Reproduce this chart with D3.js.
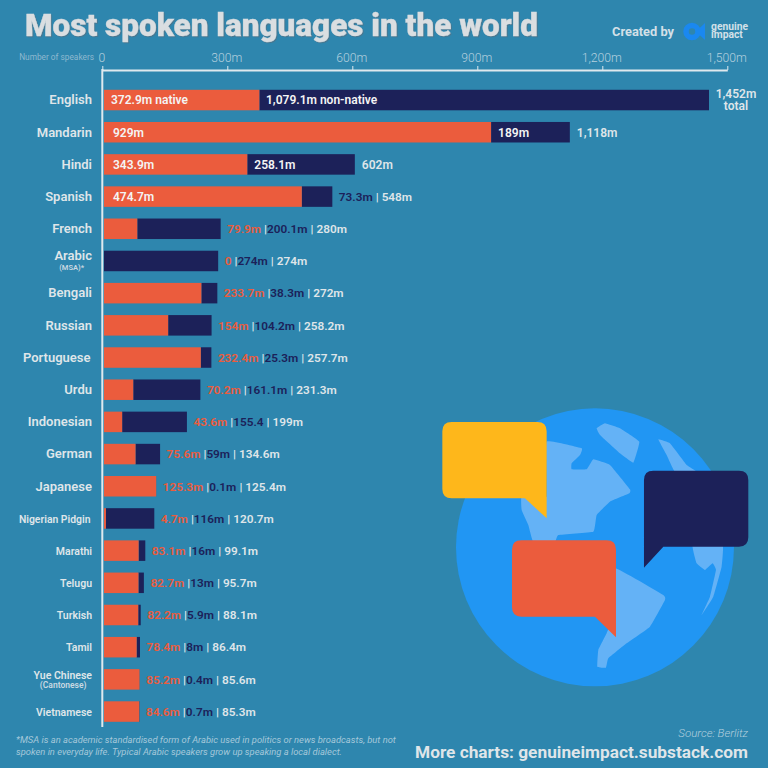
<!DOCTYPE html>
<html>
<head>
<meta charset="utf-8">
<script src="https://cdn.jsdelivr.net/npm/d3@7"></script>
<style>
  html, body { margin: 0; padding: 0; background: #2e86ae; }
  svg { display: block; }
  text { font-family: Roboto, sans-serif; }
</style>
</head>
<body>
<div id="chart"></div>
<script>
// values in millions of speakers
const languages = ["English", "Mandarin", "Hindi", "Spanish", "French", "Arabic", "Bengali", "Russian", "Portuguese", "Urdu",
    "Indonesian", "German", "Japanese", "Nigerian Pidgin", "Marathi", "Telugu", "Turkish", "Tamil", "Yue Chinese", "Vietnamese"];
const subLabels = {"Arabic": "(MSA)*", "Yue Chinese": "(Cantonese)"};
const native = [372.9, 929, 343.9, 474.7, 79.9, 0, 233.7, 154, 232.4, 70.2, 43.6, 75.6, 125.3, 4.7, 83.1, 82.7, 82.2, 78.4, 85.2, 84.6];
const nonNative = [1079.1, 189, 258.1, 73.3, 200.1, 274, 38.3, 104.2, 25.3, 161.1, 155.4, 59, 0.1, 116, 16, 13, 5.9, 8, 0.4, 0.7];
const totals = [1452, 1118, 602, 548, 280, 274, 272, 258.2, 257.7, 231.3, 199, 134.6, 125.4, 120.7, 99.1, 95.7, 88.1, 86.4, 85.6, 85.3];
const axisTicks = [0, 300, 600, 900, 1200, 1500];

const ORANGE = "#eb5c3d", NAVY = "#1c2159", GREY = "#dfe5e9";

let data = languages.map((d, i) => ({language: d, native: native[i], nonNative: nonNative[i], total: totals[i]}));
let fmt = v => d3.format(",")(v) + "m";

let svg = d3.select("#chart").append("svg")
    .attr("width", 768)
    .attr("height", 768);

svg.append("rect").attr("width", 768).attr("height", 768).attr("fill", "#2e86ae");

// title + credit
svg.append("text")
    .attr("x", 25).attr("y", 36)
    .attr("font-size", 31).attr("font-weight", 900)
    .attr("fill", "#dadee1")
    .attr("stroke", "#dadee1").attr("stroke-width", 0.4)
    .style("filter", "drop-shadow(1px 1px 0.5px rgba(90,110,125,0.6))")
    .attr("textLength", 513).attr("lengthAdjust", "spacingAndGlyphs")
    .text("Most spoken languages in the world");

svg.append("text")
    .attr("x", 612).attr("y", 36)
    .attr("font-size", 12).attr("font-weight", 700)
    .attr("fill", "#d3e0e8")
    .attr("textLength", 62).attr("lengthAdjust", "spacingAndGlyphs")
    .text("Created by");

// logo
svg.append("circle").attr("cx", 692).attr("cy", 31.5).attr("r", 6).attr("fill", "none")
    .attr("stroke", "#1a88f0").attr("stroke-width", 5.5);
svg.append("path").attr("d", "M696 31.5 L705 23 L705 40 Z").attr("fill", "#1a88f0");
svg.selectAll(".logoText")
    .data(["genuine", "impact"])
    .enter().append("text")
    .attr("class", "logoText")
    .attr("x", 711)
    .attr("y", (d, i) => 30 + i * 8.3)
    .attr("font-size", 10.3).attr("font-weight", 700)
    .attr("fill", "#d3e0e8")
    .text(d => d);

// scales
let x = d3.scaleLinear().domain([0, 1500]).range([104, 729]);
let y = d3.scaleBand().domain(languages).range([84, 727.6]).paddingInner(0.363).paddingOuter(0.18);

// axis sits a touch left of where the bars start
let xAxis = d3.axisTop(x)
    .tickValues(axisTicks)
    .tickSize(4)
    .tickSizeOuter(0)
    .tickPadding(4)
    .tickFormat(d => d === 0 ? "0" : fmt(d));

let axisGroup = svg.append("g")
    .attr("transform", "translate(-1.7, 70)")
    .call(xAxis);
axisGroup.select(".domain").attr("stroke", "#dfe9ee").attr("stroke-width", 2);
axisGroup.selectAll(".tick line").attr("stroke", "#dfe9ee");
axisGroup.selectAll(".tick text")
    .attr("x", -1)
    .attr("font-size", 12.2).attr("font-weight", 300)
    .attr("fill", "#b4d0de")
    .attr("font-family", "Roboto, sans-serif");

svg.append("line")
    .attr("x1", x(0) - 1.7).attr("x2", x(0) - 1.7)
    .attr("y1", 69).attr("y2", 727)
    .attr("stroke", "#dfe9ee").attr("stroke-width", 2);

svg.append("text")
    .attr("x", 94).attr("y", 60)
    .attr("text-anchor", "end")
    .attr("font-size", 8.3).attr("font-weight", 400)
    .attr("fill", "#8fb9cf")
    .text("Number of speakers");

// stacked bars
svg.selectAll(".nonNativeBar")
    .data(data)
    .enter().append("rect")
    .attr("class", "nonNativeBar")
    .attr("x", d => x(d.native))
    .attr("y", d => y(d.language))
    .attr("width", d => x(d.total) - x(d.native))
    .attr("height", y.bandwidth())
    .attr("fill", NAVY);

svg.selectAll(".nativeBar")
    .data(data)
    .enter().append("rect")
    .attr("class", "nativeBar")
    .attr("x", x(0))
    .attr("y", d => y(d.language))
    .attr("width", d => x(d.native) - x(0))
    .attr("height", y.bandwidth())
    .attr("fill", ORANGE);

// language names
let mid = d => y(d.language) + y.bandwidth() / 2;
svg.selectAll(".langLabel")
    .data(data)
    .enter().append("text")
    .attr("class", "langLabel")
    .attr("x", d => (d.language === "Portuguese" || d.language === "Nigerian Pidgin") ? 90.5 : 92)
    .attr("y", d => mid(d) + (subLabels[d.language] ? -0.5 : 4.3))
    .attr("text-anchor", "end")
    .attr("font-weight", 600)
    .attr("font-size", (d, i) => i === 13 ? 10.4 : (i > 13 ? 10.5 : 13))
    .attr("fill", GREY)
    .text(d => d.language);

svg.selectAll(".subLabel")
    .data(data.filter(d => subLabels[d.language]))
    .enter().append("text")
    .attr("class", "subLabel")
    .attr("x", d => d.language === "Arabic" ? 84 : 86.5)
    .attr("y", d => mid(d) + 9)
    .attr("text-anchor", "end")
    .attr("font-size", d => d.language === "Arabic" ? 7.5 : 8.5).attr("font-weight", 600)
    .attr("fill", "#c9d9e2")
    .text(d => subLabels[d.language]);

// value labels: top rows sit inside the bars, the rest trail behind
let insideLabel = (px, py, txt) => svg.append("text")
    .attr("x", px).attr("y", py)
    .attr("font-size", 12).attr("font-weight", 600)
    .attr("fill", "#f4f4f4")
    .text(txt);

data.forEach((d, i) => {
    let by = mid(d) + 4.3;
    if (i === 0) {
        insideLabel(111, by, fmt(d.native) + " native");
        insideLabel(266, by, fmt(d.nonNative) + " non-native");
        let end = svg.append("text").attr("text-anchor", "middle")
            .attr("font-size", 12).attr("font-weight", 600).attr("fill", GREY);
        end.append("tspan").attr("x", 736).attr("y", 98).text(fmt(d.total));
        end.append("tspan").attr("x", 736).attr("y", 110).text("total");
        return;
    }
    if (i <= 3) {
        insideLabel(113, by, fmt(d.native));
    }
    if (i <= 2) {
        insideLabel(x(d.native) + 7, by, fmt(d.nonNative));
        svg.append("text")
            .attr("x", x(d.total) + 7).attr("y", by)
            .attr("font-size", 12).attr("font-weight", 600).attr("fill", GREY)
            .text(fmt(d.total));
        return;
    }
    let lab = svg.append("text")
        .attr("x", x(d.total) + 6.5).attr("y", by)
        .attr("font-size", 11.8).attr("font-weight", 600);
    if (i > 3) {
        lab.append("tspan").attr("fill", ORANGE).text(d.native === 0 ? "0" : fmt(d.native));
        lab.append("tspan").attr("fill", GREY).attr("dx", 3).text("|");
        lab.append("tspan").attr("dx", 3);
    }
    lab.append("tspan").attr("fill", NAVY)
        .text(d.language === "Indonesian" ? "155.4" : fmt(d.nonNative));
    lab.append("tspan").attr("fill", GREY).attr("dx", 3).text("|");
    lab.append("tspan").attr("fill", GREY).attr("dx", 3).text(fmt(d.total));
});

// globe illustration, traced in 3x crop coordinates
let globe = svg.append("g").attr("transform", "translate(430, 400) scale(0.3333)");
globe.append("circle").attr("cx", 495).attr("cy", 442).attr("r", 417).attr("fill", "#2196f3");

let land = d3.line().curve(d3.curveCardinalClosed.tension(0.75));
[
    [[350,125],[455,145],[450,165],[425,190],[425,208],[470,208],[490,178],[540,195],[600,268],[598,280],[540,305],[500,345],[490,395],[385,405],[375,425],[310,425],[295,375],[275,330],[275,290],[350,290]],
    [[500,85],[525,70],[570,85],[628,125],[610,188],[570,160],[510,105]],
    [[685,118],[720,130],[770,195],[800,215],[735,215],[710,165]],
    [[788,435],[878,435],[875,500],[850,590],[815,645],[840,590],[858,510],[848,490],[825,510],[800,490]],
    [[555,505],[700,585],[705,600],[660,680],[590,730],[535,775],[528,803],[502,800],[505,750],[530,700],[555,640]]
].forEach(p => {
    globe.append("path").attr("d", land(p)).attr("fill", "#64b2f6");
});

globe.append("path").attr("fill", "#feb71b")
    .attr("d", "M65 66 H322 Q350 66 350 94 V355 L285 295 H65 Q37 295 37 267 V94 Q37 66 65 66 Z");
globe.append("path").attr("fill", NAVY)
    .attr("d", "M670 212 H927 Q955 212 955 240 V412 Q955 440 927 440 H700 L642 503 V240 Q642 212 670 212 Z");
globe.append("path").attr("fill", ORANGE)
    .attr("d", "M274 421 H530 Q558 421 558 449 V712 L495 650 H274 Q246 650 246 622 V449 Q246 421 274 421 Z");

// footer
svg.selectAll(".footnote")
    .data(["*MSA is an academic standardised form of Arabic used in politics or news broadcasts, but not",
        "spoken in everyday life. Typical Arabic speakers grow up speaking a local dialect."])
    .enter().append("text")
    .attr("class", "footnote")
    .attr("x", 16)
    .attr("y", (d, i) => 742.5 + i * 12)
    .attr("font-size", 9.4).attr("font-style", "italic")
    .attr("fill", "#a5c8da")
    .text(d => d);

svg.append("text")
    .attr("x", 748).attr("y", 737)
    .attr("text-anchor", "end")
    .attr("font-size", 11.5).attr("font-style", "italic").attr("font-weight", 300)
    .attr("fill", "#b4d0de")
    .text("Source: Berlitz");

svg.append("text")
    .attr("x", 748).attr("y", 758)
    .attr("text-anchor", "end")
    .attr("font-size", 16.5).attr("font-weight", 700)
    .attr("fill", "#dfe5e9")
    .attr("textLength", 333).attr("lengthAdjust", "spacingAndGlyphs")
    .text("More charts: genuineimpact.substack.com");
</script>
</body>
</html>
